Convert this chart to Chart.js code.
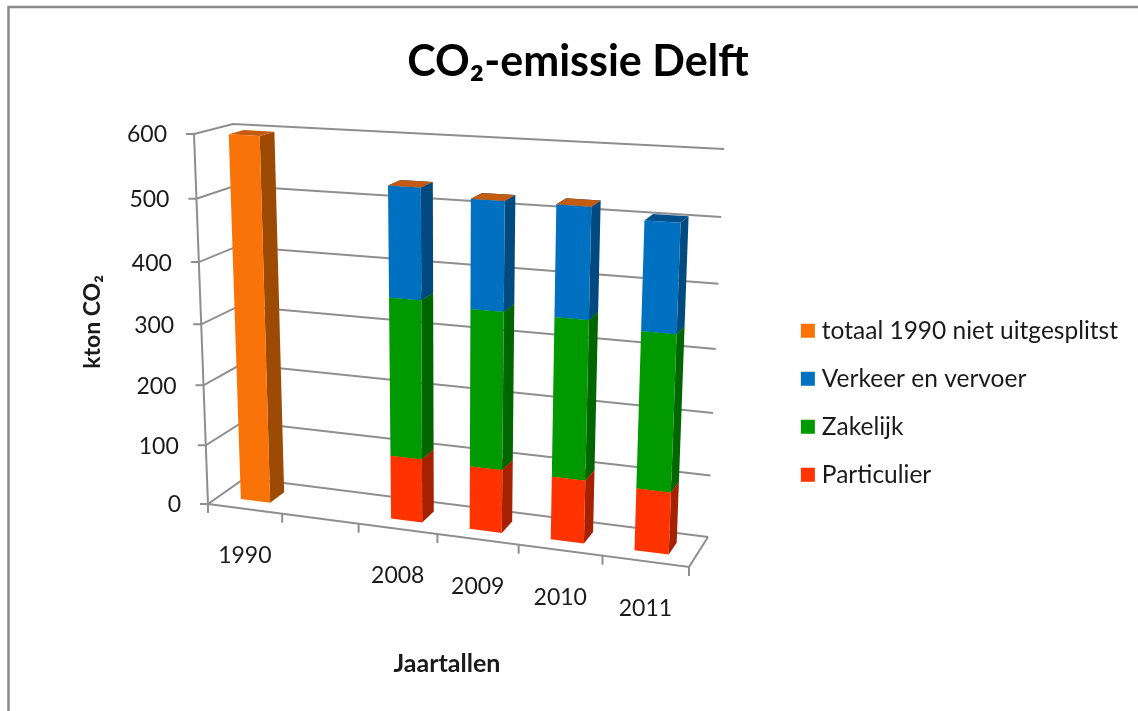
<!DOCTYPE html>
<html>
<head>
<meta charset="utf-8">
<script src="https://cdn.jsdelivr.net/npm/chart.js@4"></script>
<style>
html, body { margin: 0; padding: 0; background: #fff; }
#wrap { width: 1138px; height: 711px; }
</style>
</head>
<body>
<div id="wrap"><canvas id="co2"></canvas></div>
<script>
const categories = ['1990', '', '2008', '2009', '2010', '2011'];
const particulier = [null, null, 105, 103, 102, 99];
const zakelijk = [null, null, 255, 250, 250, 243];
const verkeer = [null, null, 173, 168, 169, 164];
const totaal1990 = [597, null, 0, 0, 0, null];
const yTicks = [0, 100, 200, 300, 400, 500, 600];

const sideColors = ['#a52100', '#006600', '#004a80', '#9c4a04'];
const topColors = ['#d42b00', '#007a00', '#00508c', '#c55a11'];
const gridColor = '#8e8e8e';
const textColor = '#1a1a1a';

// corners of the 3d box: bottom left, bottom right, top right, top left
const frontWall = [[208, 504], [689, 567], [705, 163], [194, 134]];
const backWall = [[245, 478], [708, 537], [724, 149], [233, 124]];
const barDepth = [0.3, 0.7];

function homography(q) {
    const [[x0, y0], [x1, y1], [x2, y2], [x3, y3]] = q;
    const dx1 = x1 - x2, dx2 = x3 - x2, sx = x0 - x1 + x2 - x3;
    const dy1 = y1 - y2, dy2 = y3 - y2, sy = y0 - y1 + y2 - y3;
    const den = dx1 * dy2 - dx2 * dy1;
    const g = (sx * dy2 - dx2 * sy) / den;
    const h = (dx1 * sy - sx * dy1) / den;
    const a = x1 - x0 + g * x1, b = x3 - x0 + h * x3;
    const d = y1 - y0 + g * y1, e = y3 - y0 + h * y3;
    return (u, v) => {
        const w = g * u + h * v + 1;
        return [(a * u + b * v + x0) / w, (d * u + e * v + y0) / w];
    };
}
const frontMap = homography(frontWall);
const backMap = homography(backWall);

// canvas position in the chart area -> picture position at a given depth
function project(chart, x, y, depth) {
    const area = chart.chartArea;
    const u = (x - area.left) / (area.right - area.left);
    const v = (area.bottom - y) / (area.bottom - area.top);
    const f = frontMap(u, v), b = backMap(u, v);
    return [f[0] + (b[0] - f[0]) * depth, f[1] + (b[1] - f[1]) * depth];
}

function fillPoly(ctx, pts, color) {
    ctx.beginPath();
    pts.forEach((p, i) => i ? ctx.lineTo(p[0], p[1]) : ctx.moveTo(p[0], p[1]));
    ctx.closePath();
    ctx.fillStyle = color;
    ctx.fill();
}

function strokeLine(ctx, pts) {
    ctx.beginPath();
    pts.forEach((p, i) => i ? ctx.lineTo(p[0], p[1]) : ctx.moveTo(p[0], p[1]));
    ctx.stroke();
}

const box3d = {
    id: 'box3d',
    beforeDraw(chart) {
        const ctx = chart.ctx;
        ctx.save();
        ctx.fillStyle = '#fff';
        ctx.fillRect(0, 0, chart.width, chart.height);
        ctx.strokeStyle = '#8a8a8a';
        ctx.lineWidth = 2.5;
        strokeLine(ctx, [[8.5, 711], [8.5, 7], [1138, 7]]);
        ctx.restore();
    },
    beforeDatasetsDraw(chart) {
        const ctx = chart.ctx, area = chart.chartArea;
        const yScale = chart.scales.y, xScale = chart.scales.x;
        ctx.save();
        ctx.strokeStyle = gridColor;
        ctx.lineWidth = 2;
        ctx.fillStyle = textColor;

        // walls, gridlines and value labels
        ctx.font = '23px Lato';
        ctx.textAlign = 'right';
        ctx.textBaseline = 'middle';
        yTicks.forEach(t => {
            const y = yScale.getPixelForValue(t);
            const a = project(chart, area.left, y, 0);
            const b = project(chart, area.left, y, 1);
            const c = project(chart, area.right, y, 1);
            strokeLine(ctx, [[a[0] - 8, a[1]], a, b, c]);
            ctx.fillText(String(t), a[0] - 27, a[1] + 1);
        });
        const y0 = yScale.getPixelForValue(0), yMax = yScale.getPixelForValue(600);
        strokeLine(ctx, [project(chart, area.left, yMax, 0), project(chart, area.left, y0, 0)]);

        // floor front edge and category ticks
        const fr = project(chart, area.right, y0, 0);
        strokeLine(ctx, [project(chart, area.left, y0, 0), fr, project(chart, area.right, y0, 1)]);
        for (let i = 0; i <= categories.length; i++) {
            const p = project(chart, area.left + (area.right - area.left) * i / categories.length, y0, 0);
            strokeLine(ctx, [p, [p[0], p[1] + 9]]);
        }

        // category labels
        ctx.textAlign = 'center';
        categories.forEach((c, i) => {
            const p = project(chart, xScale.getPixelForValue(i), y0, 0);
            ctx.fillText(c, p[0], p[1] + 47);
        });

        // axis titles
        ctx.font = 'bold 25px Lato';
        ctx.fillText('Jaartallen', 447, 664);
        ctx.font = 'bold 23px Lato';
        ctx.save();
        ctx.translate(93, 322);
        ctx.rotate(-Math.PI / 2);
        ctx.fillText('kton CO₂', 0, 0);
        ctx.restore();

        // bars, bottom of the stack first
        chart.data.datasets.forEach((ds, di) => {
            chart.getDatasetMeta(di).data.forEach((el, i) => {
                if (ds.data[i] === null) return;
                const l = el.x - el.width / 2, r = el.x + el.width / 2;
                const [d0, d1] = barDepth;
                fillPoly(ctx, [project(chart, r, el.base, d0), project(chart, r, el.base, d1),
                    project(chart, r, el.y, d1), project(chart, r, el.y, d0)], sideColors[di]);
                fillPoly(ctx, [project(chart, l, el.y, d0), project(chart, r, el.y, d0),
                    project(chart, r, el.y, d1), project(chart, l, el.y, d1)], topColors[di]);
                fillPoly(ctx, [project(chart, l, el.base, d0), project(chart, r, el.base, d0),
                    project(chart, r, el.y, d0), project(chart, l, el.y, d0)], ds.backgroundColor);
            });
        });
        ctx.restore();
        return false;
    }
};

new Chart(document.getElementById('co2'), {
    type: 'bar',
    data: {
        labels: categories,
        datasets: [
            {label: 'Particulier', data: particulier, backgroundColor: '#ff3300'},
            {label: 'Zakelijk', data: zakelijk, backgroundColor: '#009900'},
            {label: 'Verkeer en vervoer', data: verkeer, backgroundColor: '#0070c0'},
            {label: 'totaal 1990 niet uitgesplitst', data: totaal1990, backgroundColor: '#fa7308'}
        ]
    },
    options: {
        responsive: true,
        maintainAspectRatio: false,
        animation: false,
        layout: {padding: {left: 28, right: 10, top: 36, bottom: 0}},
        datasets: {bar: {categoryPercentage: 1, barPercentage: 0.4}},
        scales: {
            x: {stacked: true, display: false},
            y: {stacked: true, display: false, min: 0, max: 600}
        },
        plugins: {
            title: {display: true, text: 'CO₂-emissie Delft', color: '#000',
                font: {family: 'Lato', size: 43, weight: 'bold'}, padding: {top: 0, bottom: 7}},
            legend: {position: 'right', fullSize: false, reverse: true,
                labels: {usePointStyle: true, pointStyle: 'rect', boxWidth: 3.5, boxHeight: 14,
                    padding: 23.5, color: textColor, font: {family: 'Lato', size: 24.5}}},
            tooltip: {enabled: false}
        }
    },
    plugins: [box3d]
});
</script>
</body>
</html>
